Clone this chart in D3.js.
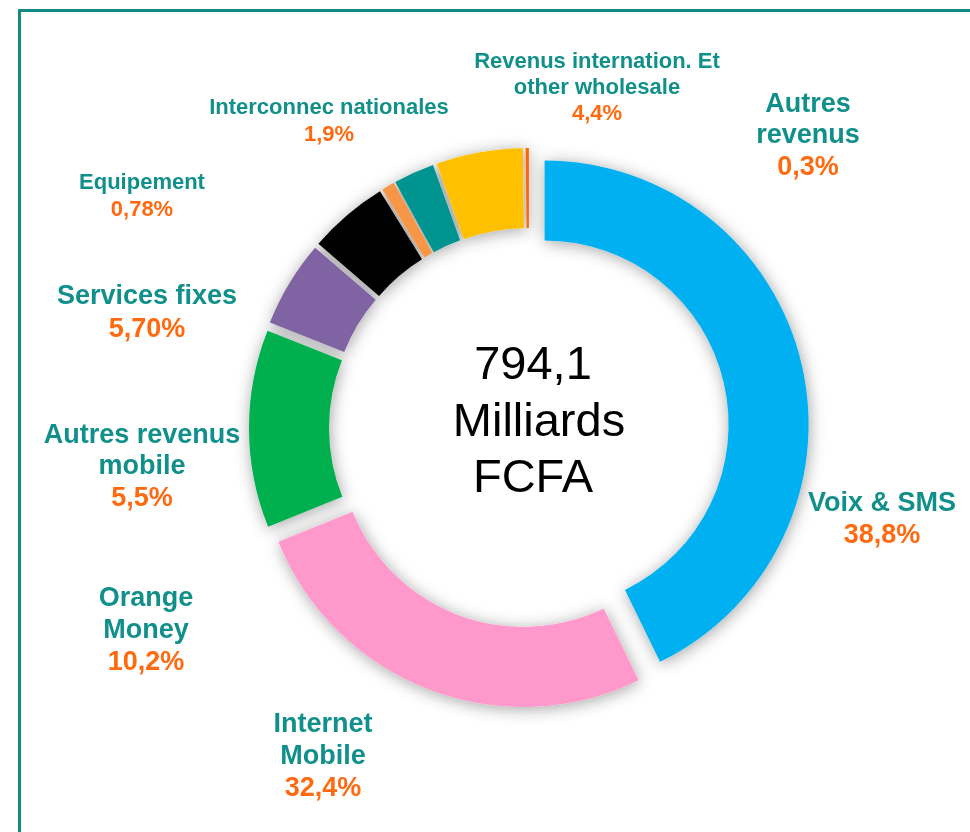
<!DOCTYPE html>
<html>
<head>
<meta charset="utf-8">
<script src="https://cdn.jsdelivr.net/npm/d3@7"></script>
<style>
  body { margin: 0; background: #fff; }
  svg { display: block; }
</style>
</head>
<body>
<div id="chart"></div>
<script>
const categories = ['Voix & SMS', 'Internet Mobile', 'Orange Money', 'Autres revenus mobile',
  'Services fixes', 'Equipement', 'Interconnec nationales',
  'Revenus internation. Et other wholesale', 'Autres revenus'];
const shares = [42.8, 26.1, 12.1, 5.3, 4.9, 0.8, 2.5, 5.3, 0.2];
// percentages as printed on the labels
const shareLabels = ['38,8%', '32,4%', '10,2%', '5,5%', '5,70%', '0,78%', '1,9%', '4,4%', '0,3%'];
const nameLines = [['Voix & SMS'], ['Internet', 'Mobile'], ['Orange', 'Money'], ['Autres revenus', 'mobile'],
  ['Services fixes'], ['Equipement'], ['Interconnec nationales'],
  ['Revenus internation. Et', 'other wholesale'], ['Autres', 'revenus']];
const centerLines = ['794,1', 'Milliards', 'FCFA'];

const colors = ['#00b0f0', '#ff99cc', '#00b050', '#8064a2', '#000000', '#f79646', '#009490', '#ffc000', '#ff6600'];

// label layout: centre x, centre y of first line, font size, line height
const labelLayout = [
  { x: 882, y: 501, size: 27, lh: 32 },
  { x: 323, y: 722, size: 27, lh: 32 },
  { x: 146, y: 596, size: 27, lh: 32 },
  { x: 142, y: 433, size: 27, lh: 31.5 },
  { x: 147, y: 294, size: 27, lh: 33 },
  { x: 142, y: 181, size: 22, lh: 27 },
  { x: 329, y: 106, size: 22, lh: 27 },
  { x: 597, y: 60, size: 22, lh: 26 },
  { x: 808, y: 102, size: 27, lh: 31.5 }
];

const width = 970, height = 832;
const cx = 529, cy = 428;
const outerR = 264, innerR = 184;
const explode = 16;
const teal = '#11908b', orange = '#ff6a10';

const svg = d3.select('#chart').append('svg')
  .attr('width', width)
  .attr('height', height);

const defs = svg.append('defs');
const shadow = defs.append('filter')
  .attr('id', 'shadow')
  .attr('x', '-20%').attr('y', '-20%')
  .attr('width', '140%').attr('height', '140%');
shadow.append('feDropShadow')
  .attr('dx', 1).attr('dy', 2)
  .attr('stdDeviation', 8)
  .attr('flood-color', '#000')
  .attr('flood-opacity', 0.36);

// frame
svg.append('rect')
  .attr('x', 19.5).attr('y', 10.5)
  .attr('width', 1000).attr('height', 900)
  .attr('fill', 'none')
  .attr('stroke', '#148a85')
  .attr('stroke-width', 3);

const pie = d3.pie().sort(null).value(d => d);
const arcs = pie(shares);
const arc = d3.arc().innerRadius(innerR).outerRadius(outerR);

const ring = svg.append('g')
  .attr('transform', `translate(${cx},${cy})`)
  .attr('filter', 'url(#shadow)');

ring.selectAll('path')
  .data(arcs)
  .join('path')
  .attr('d', arc)
  .attr('fill', (d, i) => colors[i])
  .attr('transform', d => {
    const mid = (d.startAngle + d.endAngle) / 2;
    return `translate(${Math.sin(mid) * explode},${-Math.cos(mid) * explode})`;
  });

// centre text
svg.append('g')
  .selectAll('text')
  .data(centerLines)
  .join('text')
  .attr('x', (d, i) => i === 1 ? 539 : 533)
  .attr('y', (d, i) => 362 + i * 56.5 + 17)
  .attr('text-anchor', 'middle')
  .style('font-family', '"Liberation Sans", Arial, sans-serif')
  .style('font-size', '47px')
  .attr('fill', '#000')
  .text(d => d);

// category labels
const labels = svg.append('g')
  .style('font-family', '"Liberation Sans", Arial, sans-serif')
  .style('font-weight', 'bold')
  .attr('text-anchor', 'middle');

categories.forEach((c, i) => {
  const L = labelLayout[i];
  const lines = nameLines[i];
  const g = labels.append('text')
    .style('font-size', L.size + 'px');
  lines.forEach((t, j) => {
    g.append('tspan')
      .attr('x', L.x)
      .attr('y', L.y + j * L.lh + L.size * 0.36)
      .attr('fill', teal)
      .text(t);
  });
  g.append('tspan')
    .attr('x', L.x)
    .attr('y', L.y + lines.length * L.lh + L.size * 0.36)
    .attr('fill', orange)
    .text(shareLabels[i]);
});
</script>
</body>
</html>
